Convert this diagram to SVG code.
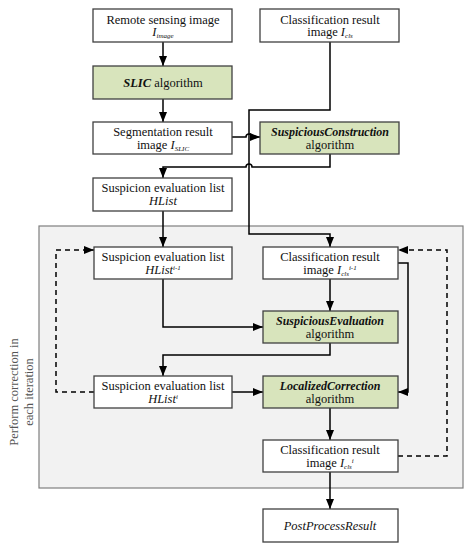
<svg xmlns="http://www.w3.org/2000/svg" width="474" height="550" viewBox="0 0 474 550">
<defs>
<style>
.box{fill:#ffffff;stroke:#404040;stroke-width:1.3}
.alg{fill:#d8e4bc;stroke:#404040;stroke-width:1.3}
.t{font-family:"Liberation Serif","DejaVu Serif",serif;font-size:12.5px;fill:#111;text-anchor:middle}
.bi{font-weight:bold;font-style:italic}
.i{font-style:italic}
.sm{font-size:7px;font-style:italic}
.ln{fill:none;stroke:#000;stroke-width:1.5}
.dash{stroke-dasharray:5,4}
.side{font-family:"Liberation Serif","DejaVu Serif",serif;font-size:12.5px;fill:#555;text-anchor:middle}
</style>
<marker id="ah" markerUnits="userSpaceOnUse" markerWidth="10" markerHeight="10" viewBox="0 0 10 10" refX="10" refY="5" orient="auto">
<path d="M0,1 L10,5 L0,9 Z" fill="#000"/>
</marker>
</defs>
<rect x="0" y="0" width="474" height="550" fill="#ffffff"/>
<g id="container">
<rect x="39" y="226" width="424" height="262" fill="#f2f2f2" stroke="#7f7f7f" stroke-width="1.2"/>
<text class="side" transform="translate(18,392) rotate(-90)">Perform correction in</text>
<text class="side" transform="translate(33,392) rotate(-90)">each iteration</text>
</g>
<g id="connectors">
<path class="ln" d="M163,42 V66" marker-end="url(#ah)"/>
<path class="ln" d="M163,99 V122" marker-end="url(#ah)"/>
<path class="ln" d="M330,42 V110 H249 V234 H330 V247" marker-end="url(#ah)"/>
<path class="ln" d="M232,137 H246 A3,3 0 0 1 252,137 H260" marker-end="url(#ah)"/>
<path class="ln" d="M330,154 V167 H252 A3,3 0 0 0 246,167 H163 V178" marker-end="url(#ah)"/>
<path class="ln" d="M163,211 V247" marker-end="url(#ah)"/>
<path class="ln" d="M163,279 V327 H263" marker-end="url(#ah)"/>
<path class="ln" d="M330,279 V311" marker-end="url(#ah)"/>
<path class="ln" d="M330,343 V355 H163 V376" marker-end="url(#ah)"/>
<path class="ln" d="M232,392 H263" marker-end="url(#ah)"/>
<path class="ln" d="M398,263 H408 V392 H398" marker-end="url(#ah)"/>
<path class="ln" d="M330,408 V440" marker-end="url(#ah)"/>
<path class="ln" d="M330,472 V509" marker-end="url(#ah)"/>
<path class="ln dash" d="M398,456 H447 V250 H398" marker-end="url(#ah)"/>
<path class="ln dash" d="M94,392 H56 V250 H94" marker-end="url(#ah)"/>
</g>
<g id="remote">
<rect class="box" x="93" y="9" width="139" height="33"/>
<text class="t" x="163" y="23.5">Remote sensing image</text>
<text class="t" x="163" y="36"><tspan class="i">I</tspan><tspan class="sm" dy="2">image</tspan></text>
</g>
<g id="cls0">
<rect class="box" x="260" y="9" width="139" height="33"/>
<text class="t" x="330" y="23.5">Classification result</text>
<text class="t" x="330" y="36">image <tspan class="i">I</tspan><tspan class="sm" dy="2">cls</tspan></text>
</g>
<g id="slic">
<rect class="alg" x="93" y="66" width="139" height="33"/>
<text class="t" x="163" y="86.5"><tspan class="bi">SLIC</tspan> algorithm</text>
</g>
<g id="seg">
<rect class="box" x="93" y="122" width="139" height="32"/>
<text class="t" x="163" y="135.5">Segmentation result</text>
<text class="t" x="163" y="148.5">image <tspan class="i">I</tspan><tspan class="sm" dy="2">SLIC</tspan></text>
</g>
<g id="suspcons">
<rect class="alg" x="260" y="122" width="139" height="32"/>
<text class="t bi" x="330" y="135.5" style="font-size:12px">SuspiciousConstruction</text>
<text class="t" x="330" y="148.5">algorithm</text>
</g>
<g id="hlist">
<rect class="box" x="93" y="178" width="139" height="33"/>
<text class="t" x="163" y="192">Suspicion evaluation list</text>
<text class="t i" x="163" y="205">HList</text>
</g>
<g id="hlist_prev">
<rect class="box" x="94" y="247" width="138" height="32"/>
<text class="t" x="163" y="260.5">Suspicion evaluation list</text>
<text class="t" x="163" y="273.5"><tspan class="i">HList</tspan><tspan class="sm" dy="-4">i-1</tspan></text>
</g>
<g id="cls_prev">
<rect class="box" x="263" y="247" width="135" height="32"/>
<text class="t" x="330" y="260.5">Classification result</text>
<text class="t" x="330" y="273.5">image <tspan class="i">I</tspan><tspan class="sm" dy="2">cls</tspan><tspan class="sm" dy="-6">i-1</tspan></text>
</g>
<g id="suspeval">
<rect class="alg" x="263" y="311" width="135" height="32"/>
<text class="t bi" x="330" y="324.5" style="font-size:12px">SuspiciousEvaluation</text>
<text class="t" x="330" y="337.5">algorithm</text>
</g>
<g id="hlist_i">
<rect class="box" x="94" y="376" width="138" height="32"/>
<text class="t" x="163" y="389.5">Suspicion evaluation list</text>
<text class="t" x="163" y="402.5"><tspan class="i">HList</tspan><tspan class="sm" dy="-4">i</tspan></text>
</g>
<g id="loccorr">
<rect class="alg" x="263" y="376" width="135" height="32"/>
<text class="t bi" x="330" y="389.5" style="font-size:12px">LocalizedCorrection</text>
<text class="t" x="330" y="402.5">algorithm</text>
</g>
<g id="cls_i">
<rect class="box" x="263" y="440" width="135" height="32"/>
<text class="t" x="330" y="453.5">Classification result</text>
<text class="t" x="330" y="466.5">image <tspan class="i">I</tspan><tspan class="sm" dy="2">cls</tspan><tspan class="sm" dy="-6">i</tspan></text>
</g>
<g id="postprocess">
<rect class="box" x="263" y="509" width="135" height="33"/>
<text class="t i" x="330" y="529.5">PostProcessResult</text>
</g>
</svg>
